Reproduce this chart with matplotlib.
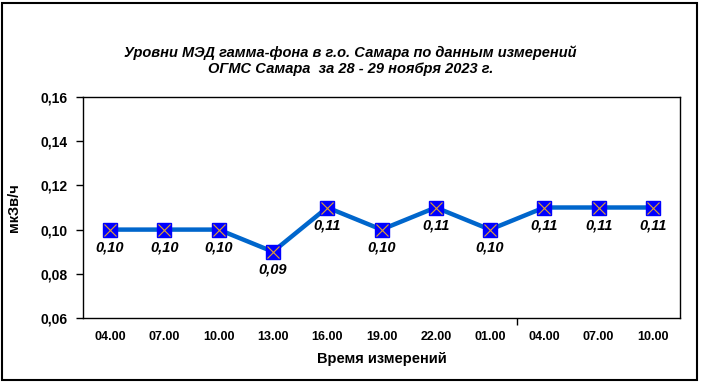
import matplotlib.pyplot as plt
from matplotlib.patches import Rectangle

plt.rcParams['font.family'] = ['Liberation Sans', 'DejaVu Sans']

times = ['04.00', '07.00', '10.00', '13.00', '16.00', '19.00', '22.00',
         '01.00', '04.00', '07.00', '10.00']
values = [0.10, 0.10, 0.10, 0.09, 0.11, 0.10, 0.11, 0.10, 0.11, 0.11, 0.11]
yticks = [0.06, 0.08, 0.10, 0.12, 0.14, 0.16]

fig = plt.figure(figsize=(7.01, 3.83), dpi=100)
ax = fig.add_axes([83 / 701, 1 - 318 / 383, (680 - 83) / 701, (318 - 97) / 383])

x = list(range(len(values)))
ax.plot(x, values, color='#0066CC', lw=3.2, zorder=2)
ax.plot(x, values, ls='none', marker='s', ms=10, mfc='#0000FF', mec='#0000FF', zorder=3)
ax.plot(x, values, ls='none', marker='x', ms=8, mec='#E0A030', mew=0.8, zorder=4)

for xi, v in zip(x, values):
    ax.annotate(f'{v:.2f}'.replace('.', ','), (xi, v), xytext=(0, -8),
                textcoords='offset points', ha='center', va='top',
                fontsize=10.5, fontweight='bold', fontstyle='italic')

ax.set_xlim(-0.5, len(values) - 0.5)
ax.set_ylim(0.06, 0.16)
ax.set_yticks(yticks)
ax.set_yticklabels([f'{t:.2f}'.replace('.', ',') for t in yticks],
                   fontsize=10, fontweight='bold')
ax.tick_params(axis='y', direction='out', length=5, width=1, pad=6)

ax.set_xticks(x)
ax.set_xticklabels(times, fontsize=9, fontweight='bold')
ax.tick_params(axis='x', length=0, pad=9)
ax.set_xticks([7.5], minor=True)
ax.tick_params(axis='x', which='minor', direction='out', length=5, width=1)

for s in ax.spines.values():
    s.set_color('black')
    s.set_linewidth(1)

ax.set_xlabel('Время измерений', fontsize=10.5, fontweight='bold', labelpad=7)
ax.set_ylabel('мкЗв/ч', fontsize=10.5, fontweight='bold', labelpad=14)

fig.text(0.5, 1 - 61 / 383, 'Уровни МЭД гамма-фона в г.о. Самара по данным измерений\n'
         'ОГМС Самара  за 28 - 29 ноября 2023 г.', ha='center', va='center',
         fontsize=10.5, fontweight='bold', fontstyle='italic', linespacing=1.15)

fig.patches.append(Rectangle((2 / 701, 3 / 383), 695 / 701, 377 / 383,
                             transform=fig.transFigure, fill=False,
                             edgecolor='black', lw=1.5))

fig.savefig('out.png', dpi=100)
